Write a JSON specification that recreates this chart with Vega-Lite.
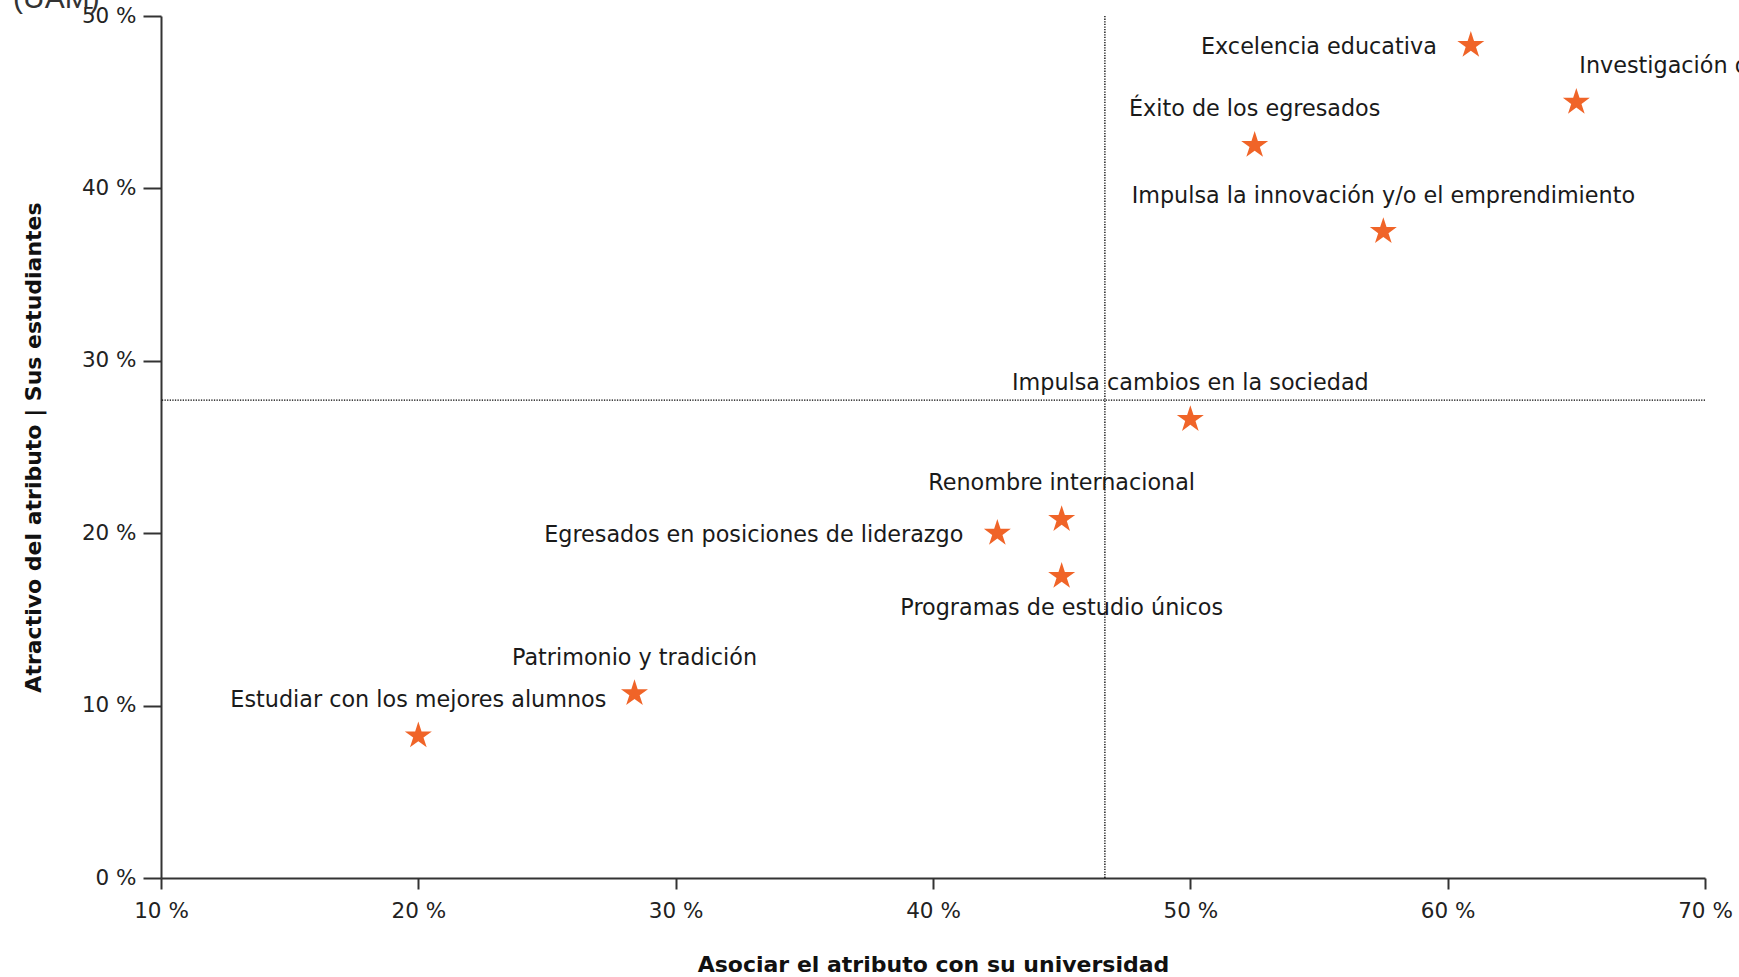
{
  "$schema": "https://vega.github.io/schema/vega-lite/v6.json",
  "width": 1544,
  "height": 862,
  "autosize": {"type": "none"},
  "padding": {"left": 161, "top": 16, "right": 34, "bottom": 99},
  "background": "white",
  "config": {
    "view": {"stroke": null},
    "font": "DejaVu Sans",
    "axis": {"grid": false, "labelFont": "DejaVu Sans", "labelFontSize": 21.5, "labelColor": "#222", "titleFont": "DejaVu Sans", "titleFontSize": 22, "titleFontWeight": "bold", "titleColor": "#111", "domainColor": "#333", "domainWidth": 2, "tickColor": "#333", "tickWidth": 2, "labelFlush": false, "labelOverlap": false},
    "axisX": {"tickSize": 11, "labelPadding": 11, "titleX": 772, "titleY": 93.5, "titleBaseline": "alphabetic", "titleAlign": "center"},
    "axisY": {"tickSize": 18, "labelPadding": 7, "titleX": -120.5, "titleY": 431, "titleAngle": -90, "titleBaseline": "alphabetic", "titleAlign": "center"}
  },
  "title": {"text": "(UAM)", "anchor": "start", "frame": "group", "fontSize": 30, "font": "Liberation Sans", "fontWeight": "normal", "color": "#333", "dx": -148, "offset": -33, "baseline": "alphabetic"},
  "data": {"values": [
    {"atributo": "Excelencia educativa", "asociacion": 60.9, "atractivo": 48.3},
    {"atributo": "Investigación de vanguardia", "asociacion": 65.0, "atractivo": 45.0},
    {"atributo": "Éxito de los egresados", "asociacion": 52.5, "atractivo": 42.5},
    {"atributo": "Impulsa la innovación y/o el emprendimiento", "asociacion": 57.5, "atractivo": 37.5},
    {"atributo": "Impulsa cambios en la sociedad", "asociacion": 50.0, "atractivo": 26.6},
    {"atributo": "Renombre internacional", "asociacion": 45.0, "atractivo": 20.8},
    {"atributo": "Egresados en posiciones de liderazgo", "asociacion": 42.5, "atractivo": 20.0},
    {"atributo": "Programas de estudio únicos", "asociacion": 45.0, "atractivo": 17.5},
    {"atributo": "Patrimonio y tradición", "asociacion": 28.4, "atractivo": 10.7},
    {"atributo": "Estudiar con los mejores alumnos", "asociacion": 20.0, "atractivo": 8.25}
  ]},
  "layer": [
    {
      "mark": {"type": "rule", "strokeDash": [1.3, 1.3], "color": "#000", "strokeWidth": 1.3},
      "encoding": {"x": {"aggregate": "mean", "field": "asociacion", "type": "quantitative", "scale": {"domain": [10, 70], "nice": false, "zero": false}, "axis": {"title": "Asociar el atributo con su universidad", "values": [10, 20, 30, 40, 50, 60, 70], "labelExpr": "datum.value + ' %'"}}}
    },
    {
      "mark": {"type": "rule", "strokeDash": [1.3, 1.3], "color": "#000", "strokeWidth": 1.3},
      "encoding": {"y": {"aggregate": "mean", "field": "atractivo", "type": "quantitative", "scale": {"domain": [0, 50], "nice": false}, "axis": {"title": "Atractivo del atributo | Sus estudiantes", "values": [0, 10, 20, 30, 40, 50], "labelExpr": "datum.value + ' %'"}}}
    },
    {
      "mark": {"type": "point", "shape": "M0,-1L0.2245,-0.309L0.951,-0.309L0.363,0.118L0.588,0.809L0,0.382L-0.588,0.809L-0.363,0.118L-0.951,-0.309L-0.2245,-0.309Z", "filled": true, "size": 806, "color": "#F06428", "opacity": 1, "strokeWidth": 0},
      "encoding": {
        "x": {"field": "asociacion", "type": "quantitative", "scale": {"domain": [10, 70], "nice": false, "zero": false}, "axis": {"title": "Asociar el atributo con su universidad", "values": [10, 20, 30, 40, 50, 60, 70], "labelExpr": "datum.value + ' %'"}},
        "y": {"field": "atractivo", "type": "quantitative", "scale": {"domain": [0, 50], "nice": false}, "axis": {"title": "Atractivo del atributo | Sus estudiantes", "values": [0, 10, 20, 30, 40, 50], "labelExpr": "datum.value + ' %'"}}
      }
    },
    {
      "transform": [{"filter": "indexof(['Excelencia educativa', 'Egresados en posiciones de liderazgo'], datum.atributo) >= 0"}],
      "mark": {"type": "text", "align": "right", "baseline": "middle", "dx": -34, "dy": 2, "fontSize": 22.3, "font": "DejaVu Sans", "color": "#1a1a1a"},
      "encoding": {
        "x": {"field": "asociacion", "type": "quantitative", "axis": {"title": "Asociar el atributo con su universidad", "values": [10, 20, 30, 40, 50, 60, 70], "labelExpr": "datum.value + ' %'"}},
        "y": {"field": "atractivo", "type": "quantitative", "axis": {"title": "Atractivo del atributo | Sus estudiantes", "values": [0, 10, 20, 30, 40, 50], "labelExpr": "datum.value + ' %'"}},
        "text": {"field": "atributo"}
      }
    },
    {
      "transform": [{"filter": "indexof(['Éxito de los egresados', 'Impulsa la innovación y/o el emprendimiento', 'Impulsa cambios en la sociedad', 'Renombre internacional', 'Patrimonio y tradición', 'Estudiar con los mejores alumnos'], datum.atributo) >= 0"}],
      "mark": {"type": "text", "align": "center", "baseline": "middle", "dy": -36, "fontSize": 22.3, "font": "DejaVu Sans", "color": "#1a1a1a"},
      "encoding": {
        "x": {"field": "asociacion", "type": "quantitative", "axis": {"title": "Asociar el atributo con su universidad", "values": [10, 20, 30, 40, 50, 60, 70], "labelExpr": "datum.value + ' %'"}},
        "y": {"field": "atractivo", "type": "quantitative", "axis": {"title": "Atractivo del atributo | Sus estudiantes", "values": [0, 10, 20, 30, 40, 50], "labelExpr": "datum.value + ' %'"}},
        "text": {"field": "atributo"}
      }
    },
    {
      "transform": [{"filter": "datum.atributo === 'Programas de estudio únicos'"}],
      "mark": {"type": "text", "align": "center", "baseline": "middle", "dy": 32, "fontSize": 22.3, "font": "DejaVu Sans", "color": "#1a1a1a"},
      "encoding": {
        "x": {"field": "asociacion", "type": "quantitative", "axis": {"title": "Asociar el atributo con su universidad", "values": [10, 20, 30, 40, 50, 60, 70], "labelExpr": "datum.value + ' %'"}},
        "y": {"field": "atractivo", "type": "quantitative", "axis": {"title": "Atractivo del atributo | Sus estudiantes", "values": [0, 10, 20, 30, 40, 50], "labelExpr": "datum.value + ' %'"}},
        "text": {"field": "atributo"}
      }
    },
    {
      "transform": [{"filter": "datum.atributo === 'Investigación de vanguardia'"}],
      "mark": {"type": "text", "align": "left", "baseline": "middle", "dx": 3, "dy": -36, "fontSize": 22.3, "font": "DejaVu Sans", "color": "#1a1a1a"},
      "encoding": {
        "x": {"field": "asociacion", "type": "quantitative", "axis": {"title": "Asociar el atributo con su universidad", "values": [10, 20, 30, 40, 50, 60, 70], "labelExpr": "datum.value + ' %'"}},
        "y": {"field": "atractivo", "type": "quantitative", "axis": {"title": "Atractivo del atributo | Sus estudiantes", "values": [0, 10, 20, 30, 40, 50], "labelExpr": "datum.value + ' %'"}},
        "text": {"field": "atributo"}
      }
    }
  ]
}
